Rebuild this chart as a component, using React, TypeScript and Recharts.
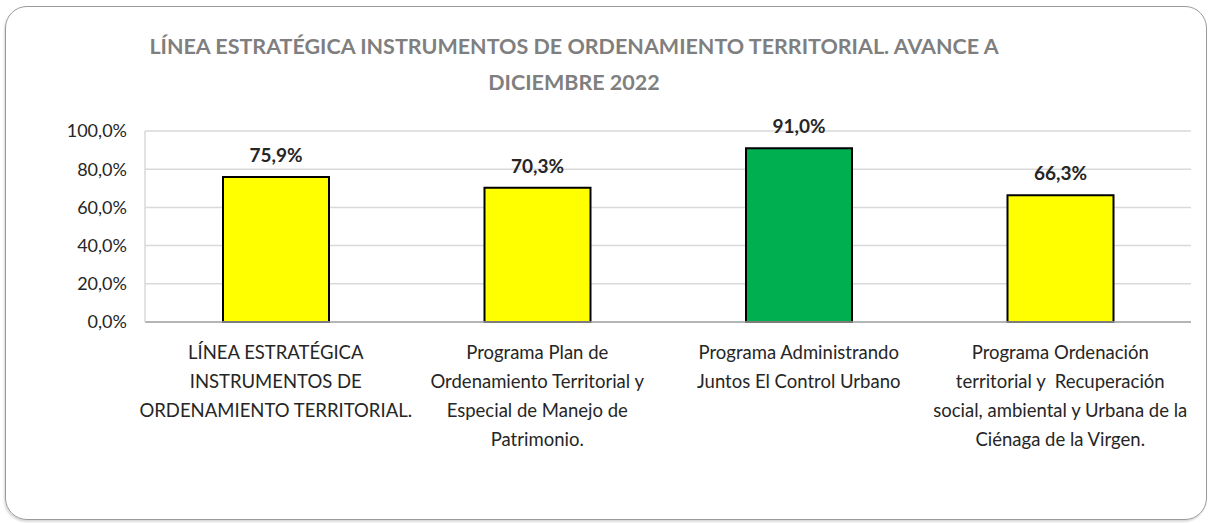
import React from "react";
import {
  BarChart,
  Bar,
  XAxis,
  YAxis,
  CartesianGrid,
  LabelList,
  Cell,
} from "recharts";

const categories = [
  "LÍNEA ESTRATÉGICA\nINSTRUMENTOS DE\nORDENAMIENTO TERRITORIAL.",
  "Programa Plan de\nOrdenamiento Territorial y\nEspecial de Manejo de\nPatrimonio.",
  "Programa Administrando\nJuntos El Control Urbano",
  "Programa Ordenación\nterritorial y  Recuperación\nsocial, ambiental y Urbana de la\nCiénaga de la Virgen.",
];
const avance = [0.759, 0.703, 0.91, 0.663];
const yTicks = [0, 0.2, 0.4, 0.6, 0.8, 1];
const titleLines = [
  "LÍNEA ESTRATÉGICA INSTRUMENTOS DE ORDENAMIENTO TERRITORIAL. AVANCE A",
  "DICIEMBRE 2022",
];

const data = categories.map((name, i) => ({ name, avance: avance[i] }));

const FONT = "Lato, sans-serif";
const pct = (v: number) => (v * 100).toFixed(1).replace(".", ",") + "%";
const colorFor = (v: number) => (v >= 0.8 ? "#00B050" : "#FFFF00");

function CategoryTick(props: any) {
  const { x, y, payload } = props;
  const lines = String(payload.value).split("\n");
  return (
    <text
      x={x}
      y={y}
      textAnchor="middle"
      fill="#262626"
      fontSize={18.5}
      fontFamily={FONT}
      style={{ whiteSpace: "pre" }}
    >
      {lines.map((l, i) => (
        <tspan key={i} x={x} y={y + 29 + i * 29}>
          {l}
        </tspan>
      ))}
    </text>
  );
}

export default function App() {
  return (
    <div
      style={{
        position: "absolute",
        left: 0,
        top: 0,
        width: 1208,
        height: 523,
        background: "#fff",
        overflow: "hidden",
        fontFamily: FONT,
      }}
    >
      <div
        style={{
          position: "absolute",
          left: 5,
          top: 6,
          width: 1200,
          height: 512,
          border: "1.5px solid #9a9a9a",
          borderRadius: 22,
          boxShadow: "-1px 2px 2px rgba(0,0,0,0.15)",
        }}
      />
      <div
        style={{
          position: "absolute",
          left: 0,
          top: 28,
          width: 1148,
          textAlign: "center",
          color: "#7f7f7f",
          fontWeight: "bold",
          fontSize: 21.5,
          lineHeight: "36px",
        }}
      >
        {titleLines.map((t) => (
          <div key={t}>{t}</div>
        ))}
      </div>
      <div style={{ position: "absolute", left: 0, top: 0 }}>
        <BarChart
          width={1208}
          height={523}
          data={data}
          margin={{ top: 131, right: 17, left: 65, bottom: 51 }}
        >
          <CartesianGrid vertical={false} stroke="#d9d9d9" strokeWidth={1.5} />
          <XAxis
            dataKey="name"
            interval={0}
            height={150}
            tickLine={false}
            axisLine={{ stroke: "#a6a6a6", strokeWidth: 1.5 }}
            tick={<CategoryTick />}
          />
          <YAxis
            width={80}
            domain={[0, 1]}
            ticks={yTicks}
            tickFormatter={pct}
            tickLine={false}
            tickSize={6}
            tickMargin={12}
            axisLine={{ stroke: "#d9d9d9", strokeWidth: 1.5 }}
            tick={{ fill: "#262626", fontSize: 18, fontFamily: FONT }}
          />
          <Bar
            dataKey="avance"
            barSize={106}
            stroke="#000"
            strokeWidth={2}
            isAnimationActive={false}
          >
            {data.map((d, i) => (
              <Cell key={i} fill={colorFor(d.avance)} />
            ))}
            <LabelList
              dataKey="avance"
              position="top"
              offset={15}
              formatter={(v: any) => pct(Number(v))}
              fill="#262626"
              fontSize={19}
              fontWeight="bold"
              fontFamily={FONT}
            />
          </Bar>
        </BarChart>
      </div>
    </div>
  );
}
